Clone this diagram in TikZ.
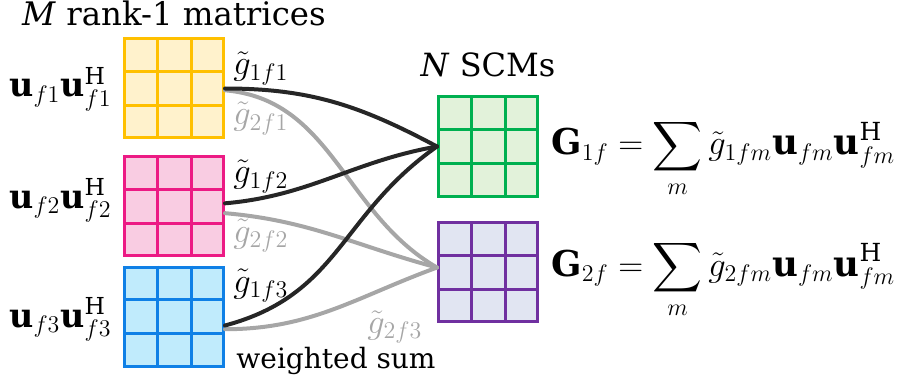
\documentclass[tikz,border=0pt]{standalone}
\usepackage{amsmath}
\usepackage{fontspec}
\setmainfont{DejaVu Serif}
\usepackage{tikz}
\usetikzlibrary{calc,positioning}
\definecolor{yelline}{HTML}{FFC000}
\definecolor{yelfill}{HTML}{FFF2CC}
\definecolor{pinkline}{HTML}{EC1A84}
\definecolor{pinkfill}{HTML}{F9CCE2}
\definecolor{blueline}{HTML}{0F80E6}
\definecolor{bluefill}{HTML}{C0EBFC}
\definecolor{grnline}{HTML}{00B050}
\definecolor{grnfill}{HTML}{E2F2DA}
\definecolor{purline}{HTML}{7030A0}
\definecolor{purfill}{HTML}{E1E5F2}
\definecolor{dgray}{HTML}{262626}
\definecolor{lgray}{HTML}{A6A6A6}

\begin{document}
\begin{tikzpicture}[
  x=0.5pt, y=0.5pt,
  font=\fontsize{16.2}{19}\selectfont,
  mat/.style 2 args={draw=#1, fill=#2, line width=1.5pt, inner sep=0pt, minimum size=49.5pt},
  txt/.style={inner sep=0pt},
  eq/.style={inner sep=0pt, font=\fontsize{17.8}{21}\selectfont},
  uu/.style={inner sep=0pt, font=\fontsize{16.7}{20}\selectfont},
  wt/.style={inner sep=0pt, anchor=base west, font=\fontsize{18.8}{22}\selectfont},
  wsum/.style={line width=2pt, line cap=round}
]
\useasboundingbox (0,0) rectangle (899,-385);
% rank-1 matrices and SCMs
\node[mat={yelline}{yelfill}] (yel) at (174,-88.5) {};
\node[mat={pinkline}{pinkfill}] (pnk) at (174,-206) {};
\node[mat={blueline}{bluefill}] (blu) at (174,-316.5) {};
\node[mat={grnline}{grnfill}] (grn) at (488,-146.5) {};
\node[mat={purline}{purfill}] (pur) at (488,-272) {};
\foreach \m/\c in {yel/yelline, pnk/pinkline, blu/blueline, grn/grnline, pur/purline} {
  \foreach \t in {1,2} {
    \draw[\c, line width=1.5pt] ($(\m.north west)!\t/3!(\m.north east)$) -- ($(\m.south west)!\t/3!(\m.south east)$);
    \draw[\c, line width=1.5pt] ($(\m.north west)!\t/3!(\m.south west)$) -- ($(\m.north east)!\t/3!(\m.south east)$);
  }
}
\node[txt, above=5.5pt of yel] (ttl) {\textit{M} rank-1 matrices};
\node[txt, above=9pt of grn, font=\fontsize{16}{19}\selectfont] (scm) {\textit{N} SCMs};
\node[txt, anchor=base, font=\fontsize{14}{17}\selectfont] (ws) at (336,-368) {weighted sum};
% outer products
\node[uu, anchor=base east] (lu1) at (112,-97) {$\mathbf{u}_{f1}\mathbf{u}_{f1}^{\mathrm{H}}$};
\node[uu, anchor=base east] (lu2) at (112,-208) {$\mathbf{u}_{f2}\mathbf{u}_{f2}^{\mathrm{H}}$};
\node[uu, anchor=base east] (lu3) at (112,-327) {$\mathbf{u}_{f3}\mathbf{u}_{f3}^{\mathrm{H}}$};
% weighted sums
\draw[wsum, lgray] (yel.-2) to[out=-5, in=150] (pur.175);
\draw[wsum, lgray] (pnk.-8) to[out=-5, in=165] (pur.175);
\draw[wsum, lgray] (blu.-14) to[out=0, in=200] (pur.175);
\draw[wsum, dgray] (yel.east) to[out=0, in=152] (grn.west);
\draw[wsum, dgray] (pnk.3) to[out=5, in=190] (grn.west);
\draw[wsum, dgray] (blu.-10) to[out=15, in=215, looseness=1.1] (grn.west);
% weights
\node[wt] (g11) at (233,-75) {$\tilde{g}_{1f1}$};
\node[wt, text=lgray] (g21) at (233,-125) {$\tilde{g}_{2f1}$};
\node[wt] (g12) at (233,-183) {$\tilde{g}_{1f2}$};
\node[wt, text=lgray] (g22) at (233,-242) {$\tilde{g}_{2f2}$};
\node[wt] (g13) at (233,-292) {$\tilde{g}_{1f3}$};
\node[wt, text=lgray] (g23) at (367,-333) {$\tilde{g}_{2f3}$};
% SCM formulas
\node[eq, anchor=base west] (G1) at (551,-155) {$\displaystyle \mathbf{G}_{1f} = \sum_m \tilde{g}_{1fm}\mathbf{u}_{fm}\mathbf{u}_{fm}^{\mathrm{H}}$};
\node[eq, anchor=base west] (G2) at (551,-276) {$\displaystyle \mathbf{G}_{2f} = \sum_m \tilde{g}_{2fm}\mathbf{u}_{fm}\mathbf{u}_{fm}^{\mathrm{H}}$};
\end{tikzpicture}
\end{document}
